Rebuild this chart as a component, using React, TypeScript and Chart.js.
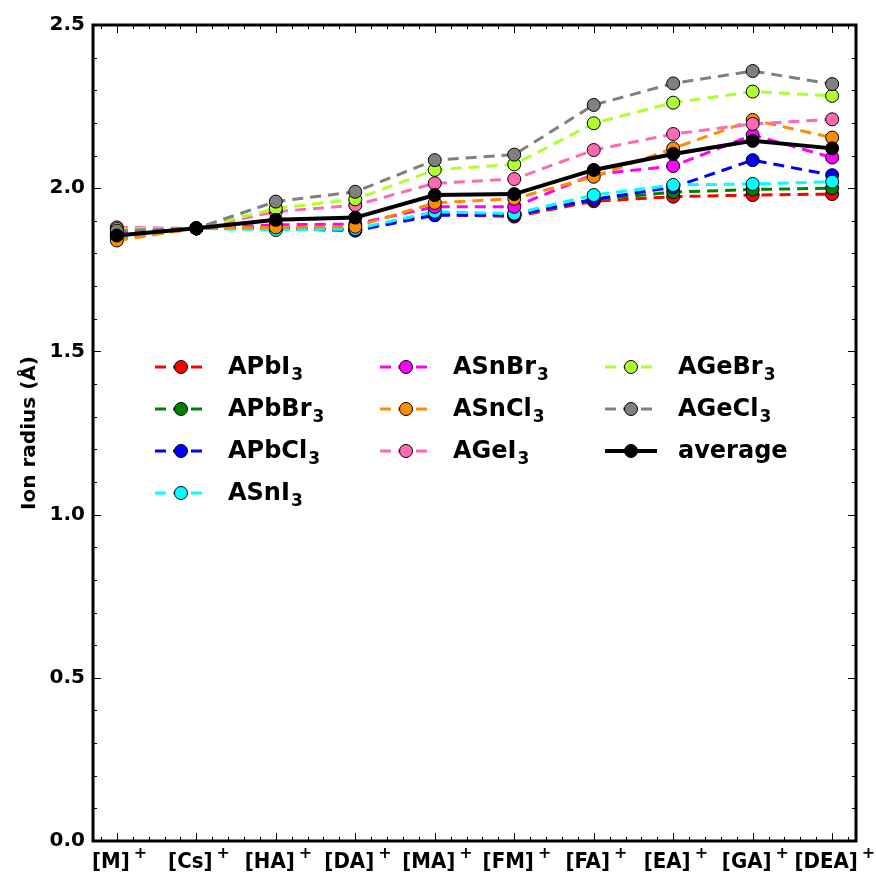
import React, { useEffect, useRef } from "react";
import { Chart, registerables } from "chart.js";

Chart.register(...registerables);

// ---------- data ----------
const categories = ["[M]", "[Cs]", "[HA]", "[DA]", "[MA]", "[FM]", "[FA]", "[EA]", "[GA]", "[DEA]"];
const chargeLabel = "+";

const APbI3 = [1.86, 1.877, 1.878, 1.873, 1.92, 1.913, 1.96, 1.974, 1.979, 1.982];
const APbBr3 = [1.855, 1.877, 1.879, 1.874, 1.922, 1.918, 1.965, 1.988, 1.996, 2.0];
const APbCl3 = [1.845, 1.877, 1.876, 1.87, 1.917, 1.918, 1.966, 2.003, 2.086, 2.04];
const ASnI3 = [1.85, 1.877, 1.872, 1.875, 1.928, 1.922, 1.979, 2.01, 2.013, 2.02];
const ASnBr3 = [1.865, 1.877, 1.888, 1.89, 1.943, 1.943, 2.042, 2.068, 2.163, 2.094];
const ASnCl3 = [1.84, 1.877, 1.88, 1.882, 1.955, 1.968, 2.035, 2.122, 2.209, 2.155];
const AGeI3 = [1.88, 1.877, 1.928, 1.948, 2.015, 2.028, 2.117, 2.166, 2.197, 2.211];
const AGeBr3 = [1.875, 1.877, 1.938, 1.966, 2.056, 2.073, 2.199, 2.262, 2.296, 2.283];
const AGeCl3 = [1.87, 1.877, 1.959, 1.989, 2.086, 2.103, 2.255, 2.321, 2.359, 2.319];
const average = [1.855, 1.877, 1.903, 1.91, 1.979, 1.982, 2.056, 2.105, 2.145, 2.122];

const seriesNames = ["APbI", "APbBr", "APbCl", "ASnI", "ASnBr", "ASnCl", "AGeI", "AGeBr", "AGeCl"];
const seriesValues = [APbI3, APbBr3, APbCl3, ASnI3, ASnBr3, ASnCl3, AGeI3, AGeBr3, AGeCl3];
const seriesColors = ["#ff0000", "#008000", "#0000ff", "#00ffff", "#ff00ff", "#ff8c00", "#ff69b4", "#adff2f", "#808080"];

const yTitle = "Ion radius (Å)";

const FONT = "'DejaVu Sans', 'Liberation Sans', sans-serif";
const FONT_COND = "'DejaVu Sans Condensed', 'DejaVu Sans', sans-serif";
const XLABEL_SIZE = 22;
const LABEL_SHIFT = -6;

// ---------- plugins ----------
const framePlugin = {
  id: "frame",
  afterDraw(chart: any) {
    const { ctx, chartArea } = chart;
    const { left, right, top, bottom } = chartArea;
    const xs = chart.scales.x;
    const ys = chart.scales.y;
    ctx.save();
    ctx.strokeStyle = "#000";
    ctx.lineWidth = 1;
    // x ticks (inward, bottom and top)
    for (let i = -2; i <= 50; i++) {
      const v = i / 5;
      if (v < xs.min - 1e-9 || v > xs.max + 1e-9) continue;
      const major = i % 5 === 0;
      const len = major ? 8 : 4;
      const px = Math.round(xs.getPixelForValue(v)) + 0.5;
      ctx.beginPath();
      ctx.moveTo(px, bottom);
      ctx.lineTo(px, bottom - len);
      ctx.moveTo(px, top);
      ctx.lineTo(px, top + len);
      ctx.stroke();
    }
    // y ticks
    for (let i = 0; i <= 25; i++) {
      const v = i / 10;
      const major = i % 5 === 0;
      const len = major ? 8 : 4;
      const py = Math.round(ys.getPixelForValue(v)) + 0.5;
      ctx.beginPath();
      ctx.moveTo(left, py);
      ctx.lineTo(left + len, py);
      ctx.moveTo(right, py);
      ctx.lineTo(right - len, py);
      ctx.stroke();
    }
    // frame
    ctx.lineWidth = 3;
    ctx.strokeRect(left, top, right - left, bottom - top);

    // superscript charges on x labels
    ctx.fillStyle = "#000";
    xs.ticks.forEach((t: any) => {
      const n = Math.round(t.value);
      if (n < 0 || n >= categories.length) return;
      ctx.font = `bold ${XLABEL_SIZE}px ${FONT_COND}`;
      const w = ctx.measureText(categories[n]).width;
      const px = xs.getPixelForValue(n) + LABEL_SHIFT;
      ctx.font = `bold 16px ${FONT}`;
      ctx.textAlign = "left";
      ctx.textBaseline = "alphabetic";
      ctx.fillText(chargeLabel, px + w / 2 + 4, 858);
    });

    // y title
    ctx.save();
    ctx.translate(30, (top + bottom) / 2);
    ctx.rotate(-Math.PI / 2);
    ctx.fillStyle = "#000";
    ctx.font = `bold 20px ${FONT}`;
    ctx.textAlign = "center";
    ctx.textBaseline = "middle";
    ctx.fillText(yTitle, 0, 0);
    ctx.restore();

    // legend
    const colX = [155, 380, 605];
    const rowY = [367, 409, 451, 493];
    const entries: any[] = seriesNames.map((n, i) => ({ name: n, sub: "3", color: seriesColors[i], avg: false }));
    entries.push({ name: "average", sub: "", color: "#000", avg: true });
    const perCol = [4, 3, 3];
    let k = 0;
    for (let c = 0; c < 3; c++) {
      for (let r = 0; r < perCol[c]; r++) {
        const e = entries[k++];
        const x0 = colX[c];
        const y0 = rowY[r];
        ctx.strokeStyle = e.color;
        ctx.lineWidth = e.avg ? 4 : 3;
        ctx.setLineDash(e.avg ? [] : [11, 7]);
        ctx.beginPath();
        ctx.moveTo(x0, y0);
        ctx.lineTo(x0 + 52, y0);
        ctx.stroke();
        ctx.setLineDash([]);
        ctx.beginPath();
        ctx.arc(x0 + 26, y0, 6.5, 0, Math.PI * 2);
        ctx.fillStyle = e.color;
        ctx.fill();
        ctx.lineWidth = 1;
        ctx.strokeStyle = "#000";
        ctx.stroke();
        ctx.fillStyle = "#000";
        ctx.font = `bold 24px ${FONT}`;
        ctx.textAlign = "left";
        ctx.textBaseline = "middle";
        const tx = x0 + 73;
        ctx.fillText(e.name, tx, y0 + 1);
        if (e.sub) {
          const w = ctx.measureText(e.name).width;
          ctx.font = `bold 17px ${FONT}`;
          ctx.fillText(e.sub, tx + w + 1, y0 + 9);
        }
      }
    }
    ctx.restore();
  },
};

export default function App() {
  const ref = useRef<HTMLCanvasElement | null>(null);

  useEffect(() => {
    if (!ref.current) return;
    const datasets: any[] = seriesValues.map((vals, i) => ({
      label: seriesNames[i] + "3",
      data: vals.map((v, j) => ({ x: j, y: v })),
      borderColor: seriesColors[i],
      backgroundColor: seriesColors[i],
      pointBackgroundColor: seriesColors[i],
      pointBorderColor: "#000",
      pointBorderWidth: 1,
      pointRadius: 6.5,
      borderWidth: 3,
      borderDash: [11, 7],
      tension: 0,
      order: 10 - i,
    }));
    datasets.push({
      label: "average",
      data: average.map((v, j) => ({ x: j, y: v })),
      borderColor: "#000",
      backgroundColor: "#000",
      pointBackgroundColor: "#000",
      pointBorderColor: "#000",
      pointBorderWidth: 1,
      pointRadius: 6.5,
      borderWidth: 4,
      tension: 0,
      order: 0,
    });

    const chart = new Chart(ref.current, {
      type: "line",
      data: { datasets },
      options: {
        animation: false,
        responsive: false,
        devicePixelRatio: 1,
        layout: { padding: { top: 25, right: 20, left: 0, bottom: 0 } },
        plugins: { legend: { display: false }, tooltip: { enabled: false } },
        scales: {
          x: {
            type: "linear",
            min: -0.3,
            max: 9.3,
            grid: { display: false },
            border: { display: false },
            afterBuildTicks: (s: any) => {
              s.ticks = categories.map((_, i) => ({ value: i }));
            },
            ticks: {
              autoSkip: false,
              maxRotation: 0,
              minRotation: 0,
              padding: 0,
              labelOffset: LABEL_SHIFT,
              color: "#000",
              font: { family: FONT_COND, size: XLABEL_SIZE, weight: "bold" },
              callback: (v: any) => {
                const n = Math.round(v);
                if (n < 0 || n >= categories.length) return "";
                return categories[n];
              },
            },
            afterFit: (s: any) => {
              s.height = 36;
              s.paddingLeft = 0;
              s.paddingRight = 0;
            },
          },
          y: {
            min: 0,
            max: 2.5,
            grid: { display: false },
            border: { display: false },
            ticks: {
              stepSize: 0.5,
              autoSkip: false,
              padding: 0,
              color: "#000",
              font: { family: FONT, size: 20, weight: "bold" },
              callback: (v: any) => Number(v).toFixed(1),
            },
            afterFit: (s: any) => {
              s.width = 93;
              s.paddingTop = 0;
              s.paddingBottom = 0;
            },
          },
        },
      } as any,
      plugins: [framePlugin],
    });
    return () => chart.destroy();
  }, []);

  return (
    <div style={{ position: "absolute", left: 0, top: 0, width: 876, height: 877, background: "#fff" }}>
      <canvas ref={ref} width={876} height={877} style={{ display: "block" }} />
    </div>
  );
}
